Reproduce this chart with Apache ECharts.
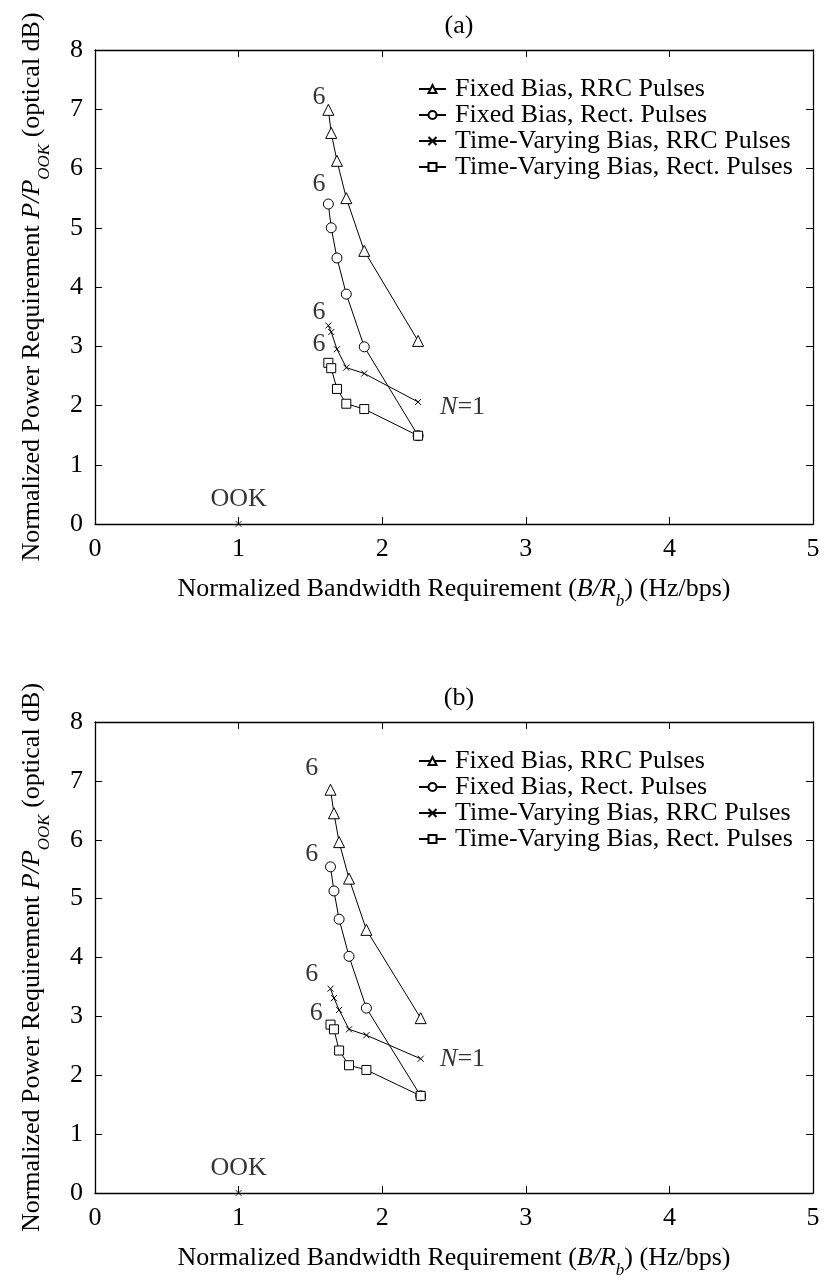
<!DOCTYPE html>
<html><head><meta charset="utf-8">
<script src="https://cdn.jsdelivr.net/npm/echarts@6/dist/echarts.min.js"></script>
<style>html,body{margin:0;padding:0;background:#fff}#c{width:825px;height:1280px}</style>
</head><body><div id="c"></div>
<script>
// ---- data ----
const seriesNames = ['Fixed Bias, RRC Pulses','Fixed Bias, Rect. Pulses','Time-Varying Bias, RRC Pulses','Time-Varying Bias, Rect. Pulses'];
const xTicks = [0,1,2,3,4,5];
const yTicks = [0,1,2,3,4,5,6,7,8];
// panel (a)
const xA = [1.625, 1.645, 1.685, 1.75, 1.875, 2.25];
const fbRrcA = [6.99, 6.60, 6.13, 5.50, 4.61, 3.09];
const fbRectA = [5.40, 5.00, 4.49, 3.88, 2.99, 1.49];
const tvRrcA = [3.35, 3.24, 2.95, 2.64, 2.54, 2.06];
const tvRectA = [2.72, 2.63, 2.28, 2.03, 1.94, 1.49];
const annotTextA = ['6','6','6','6','{i|N}=1'];
const annotXA = [1.56, 1.56, 1.56, 1.56, 2.56];
const annotYA = [7.21, 5.74, 3.58, 3.04, 1.98];
// panel (b)
const xB = [1.64, 1.664, 1.70, 1.769, 1.89, 2.268];
const fbRrcB = [6.85, 6.45, 5.96, 5.34, 4.47, 2.97];
const fbRectB = [5.54, 5.13, 4.65, 4.02, 3.14, 1.65];
const tvRrcB = [3.47, 3.31, 3.11, 2.78, 2.68, 2.28];
const tvRectB = [2.86, 2.78, 2.42, 2.17, 2.09, 1.65];
const annotTextB = ['6','6','6','6','{i|N}=1'];
const annotXB = [1.51, 1.51, 1.51, 1.54, 2.56];
const annotYB = [7.21, 5.75, 3.71, 3.05, 2.28];
// OOK reference point
const ookX = [1];
const ookY = [0];
const ookLabel = 'OOK';
const panelTitles = ['(a)','(b)'];

// ---- style ----
const serif = 'Liberation Serif';
const FS = 26;
const crossPath = 'path://M0,0L10,10M10,0L0,10';
const symbols = ['triangle','circle', crossPath, 'rect'];
const symSizes = [11, 10, 6, 9];
const grids = [
  {left:95, top:50, width:718, height:474},
  {left:95, top:722, width:718, height:475}
];

const txt = {fontFamily: serif, fontSize: FS, color:'#000'};
const rich = {
  i:{fontFamily: serif, fontSize: FS, fontStyle:'italic', color:'#000'},
  sub:{fontFamily: serif, fontSize: 17, fontStyle:'italic', color:'#000', verticalAlign:'bottom', padding:[0,0,-8,0]}
};

const xAxes = [], yAxes = [], series = [], legends = [], titles = [];
const panels = [
  {x:xA, ys:[fbRrcA, fbRectA, tvRrcA, tvRectA], at:annotTextA, ax:annotXA, ay:annotYA},
  {x:xB, ys:[fbRrcB, fbRectB, tvRrcB, tvRectB], at:annotTextB, ax:annotXB, ay:annotYB}
];

panels.forEach((p, gi) => {
  const axLine = {show:true, onZero:false, lineStyle:{color:'#000', width:1.3}};
  const tick = {show:true, inside:true, length:7, lineStyle:{color:'#000', width:1}};
  xAxes.push({
    gridIndex: gi, type:'value', min: xTicks[0], max: xTicks[xTicks.length-1], interval: 1,
    position:'bottom', axisLine: axLine, axisTick: tick, splitLine:{show:false},
    axisLabel:{...txt, margin:12},
    name:'Normalized Bandwidth Requirement ({i|B/R}{sub|b}) (Hz/bps)',
    nameLocation:'middle', nameGap: 52,
    nameTextStyle:{...txt, rich: rich}
  });
  xAxes.push({
    gridIndex: gi, type:'value', min: xTicks[0], max: xTicks[xTicks.length-1], interval: 1,
    position:'top', axisLine: axLine, axisTick: tick, splitLine:{show:false}, axisLabel:{show:false}
  });
  yAxes.push({
    gridIndex: gi, type:'value', min: yTicks[0], max: yTicks[yTicks.length-1], interval: 1,
    position:'left', axisLine: axLine, axisTick: tick, splitLine:{show:false},
    axisLabel:{...txt, margin:12},
    name:'Normalized Power Requirement {i|P/P}{sub|OOK} (optical dB)',
    nameLocation:'middle', nameGap: 50,
    nameTextStyle:{...txt, rich: rich}
  });
  yAxes.push({
    gridIndex: gi, type:'value', min: yTicks[0], max: yTicks[yTicks.length-1], interval: 1,
    position:'right', axisLine: axLine, axisTick: tick, splitLine:{show:false}, axisLabel:{show:false}
  });
  const xi = gi*2, yi = gi*2;
  p.ys.forEach((ys, si) => {
    series.push({
      name: seriesNames[si], type:'line', xAxisIndex: xi, yAxisIndex: yi,
      data: p.x.map((x, k) => [x, ys[k]]),
      symbol: symbols[si], symbolSize: symSizes[si], showAllSymbol: true,
      lineStyle:{color:'#000', width:1},
      itemStyle:{color: si === 2 ? '#000' : '#fff', borderColor:'#000', borderWidth:1},
      z: 3, clip: false
    });
  });
  // annotations
  series.push({
    name:'annot'+gi, type:'scatter', xAxisIndex: xi, yAxisIndex: yi,
    data: p.ax.map((x,k) => ({value:[x, p.ay[k]], label:{formatter: p.at[k]}})),
    symbolSize: 0, silent: true,
    label:{show:true, position:'inside', ...txt, rich: rich}
  });
  series.push({
    name:'ook'+gi, type:'scatter', xAxisIndex: xi, yAxisIndex: yi,
    data: ookX.map((x,k) => [x, ookY[k]]),
    symbol: crossPath, symbolSize: 6, clip:false,
    itemStyle:{color:'#000', borderColor:'#000', borderWidth:1},
    label:{show:true, position:'top', distance: 8, formatter: ookLabel, ...txt}
  });
  legends.push({
    data: seriesNames, left: 413, top: grids[gi].top + 21, orient:'vertical',
    itemWidth: 27, itemHeight: 10, itemGap: 0, selectedMode:false,
    textStyle:{...txt, lineHeight:24.5, padding:[0,0,0,4]},
    inactiveColor:'#000'
  });
  titles.push({
    text: panelTitles[gi], left: 454, top: grids[gi].top - 42, textAlign:'center',
    textStyle:{...txt, fontWeight:'normal'}
  });
});

const chart = echarts.init(document.getElementById('c'), null, {renderer:'canvas'});
chart.setOption({
  animation:false, backgroundColor:'#fff',
  title: titles, grid: grids, xAxis: xAxes, yAxis: yAxes, legend: legends, series: series
});
</script></body></html>
